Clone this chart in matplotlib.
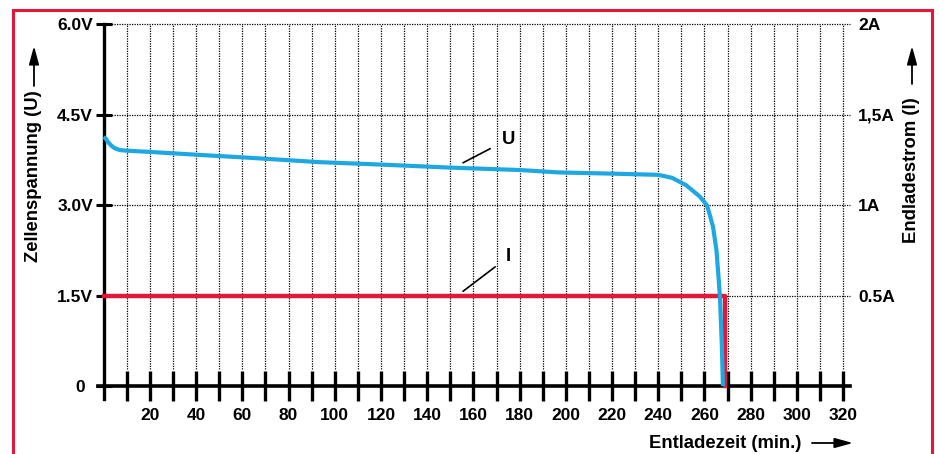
import matplotlib
matplotlib.use("Agg")
import matplotlib.pyplot as plt
from matplotlib.patches import Rectangle

plt.rcParams['font.family'] = ['Liberation Sans', 'DejaVu Sans']
plt.rcParams['font.weight'] = 'bold'

# Zellenspannung U (V) ueber Entladezeit (min)
u_time = [0, 0.9, 1.7, 2.6, 3.7, 4.8, 7, 10, 20, 41.5, 60, 93.5, 120, 150, 180, 197, 220, 240,
          246, 252, 258, 261, 262, 263.7, 265.2, 266, 266.7, 267.5, 268]
u_volt = [4.13, 4.10, 4.05, 4.01, 3.97, 3.94, 3.91, 3.90, 3.88, 3.83, 3.79, 3.71, 3.67, 3.62, 3.58,
          3.54, 3.52, 3.50, 3.45, 3.33, 3.14, 3.0, 2.88, 2.64, 2.25, 1.85, 1.48, 0.7, 0.0]

# Endladestrom I (A)
i_time = [0, 268.8, 268.8]
i_amp = [0.5, 0.5, 0.0]

x_ticks = list(range(10, 330, 10))
x_labels = [str(v) if v % 20 == 0 else '' for v in x_ticks]
u_ticks = [0, 1.5, 3.0, 4.5, 6.0]
u_labels = ['0', '1.5V', '3.0V', '4.5V', '6.0V']
i_ticks = [0.5, 1.0, 1.5, 2.0]
i_labels = ['0.5A', '1A', '1,5A', '2A']

blue = '#1ea8e2'
red = '#e3173a'
fs = 12.5
lfs = 13.3

W, H = 939, 454
fig = plt.figure(figsize=(W / 100, H / 100), dpi=100)
ax = fig.add_axes([98 / W, (H - 399.3) / H, 752 / W, 375.3 / H])
ax.set_xlim(-2.5, 323)
ax.set_ylim(-0.22, 6)

# grid
ax.vlines(x_ticks, 0.28, 6, colors='black', linewidth=0.9, linestyles=(0, (1, 1)), zorder=1)
ax.hlines(u_ticks[1:], 0, 323, colors='black', linewidth=0.9, linestyles=(0, (1, 1)), zorder=1,
          clip_on=False)

# spines
for s in ['top', 'right']:
    ax.spines[s].set_visible(False)
ax.spines['left'].set_position(('data', 0))
ax.spines['bottom'].set_position(('data', 0))
ax.spines['left'].set_linewidth(2.4)
ax.spines['bottom'].set_linewidth(2.6)

ax.set_xticks(x_ticks)
ax.set_xticklabels(x_labels, fontsize=fs, fontweight='bold')
ax.tick_params(axis='x', direction='inout', length=21, width=2.4, pad=5)
ax.set_yticks(u_ticks)
ax.set_yticklabels(u_labels, fontsize=fs, fontweight='bold')
ax.tick_params(axis='y', direction='inout', length=11.5, width=2.2, pad=2)
ax.yaxis.get_major_ticks()[0].set_pad(8)

ax2 = ax.twinx()
ax2.set_position(ax.get_position())
ax2.set_ylim(-0.22 / 3, 2)
for s in ax2.spines.values():
    s.set_visible(False)
ax2.set_yticks(i_ticks)
ax2.set_yticklabels(i_labels, fontsize=fs, fontweight='bold')
ax2.tick_params(axis='y', length=0, pad=6)
ax2.plot(i_time, i_amp, color=red, linewidth=3.2, zorder=3)
# voltage curve drawn in the volt scale but on the upper layer so it sits above the grid
ax2.plot(u_time, u_volt, color=blue, linewidth=3, solid_capstyle='butt', zorder=4,
         transform=ax.transData)

# labels U and I
ax.annotate('U', xy=(155.5, 3.70), xytext=(175.1, 4.09), fontsize=lfs, fontweight='bold',
            ha='center', va='center',
            arrowprops=dict(arrowstyle='-', color='black', lw=1.2, shrinkA=7, shrinkB=0))
ax.annotate('I', xy=(155.5, 1.57), xytext=(175.1, 2.14), fontsize=lfs, fontweight='bold',
            ha='center', va='center',
            arrowprops=dict(arrowstyle='-', color='black', lw=1.2, shrinkA=7, shrinkB=0))

# axis titles with arrows
fig.text(34 / W, 1 - 176 / H, 'Zellenspannung (U)', rotation=90, ha='center', va='center',
         fontsize=lfs, fontweight='bold')
fig.text(912 / W, 1 - 170 / H, 'Endladestrom (I)', rotation=90, ha='center', va='center',
         fontsize=lfs, fontweight='bold')
fig.text(725 / W, 1 - 443 / H, 'Entladezeit (min.)', ha='center', va='center',
         fontsize=lfs, fontweight='bold')
arrow = dict(arrowstyle='-|>,head_length=1.1,head_width=0.3', color='black', lw=1.3,
             shrinkA=0, shrinkB=0)
ax.annotate('', xy=(34 / W, 1 - 46 / H), xytext=(34 / W, 1 - 86 / H),
            xycoords='figure fraction', arrowprops=arrow)
ax.annotate('', xy=(912 / W, 1 - 46 / H), xytext=(912 / W, 1 - 84 / H),
            xycoords='figure fraction', arrowprops=arrow)
ax.annotate('', xy=(853 / W, 1 - 443 / H), xytext=(812 / W, 1 - 443 / H),
            xycoords='figure fraction', arrowprops=arrow)

# red frame
fig.patches.append(Rectangle((13 / W, -0.05), 919 / W, 1.05 - 10 / H, transform=fig.transFigure,
                             fill=False, edgecolor=red, linewidth=2.2))

fig.savefig('out.png', dpi=100)
